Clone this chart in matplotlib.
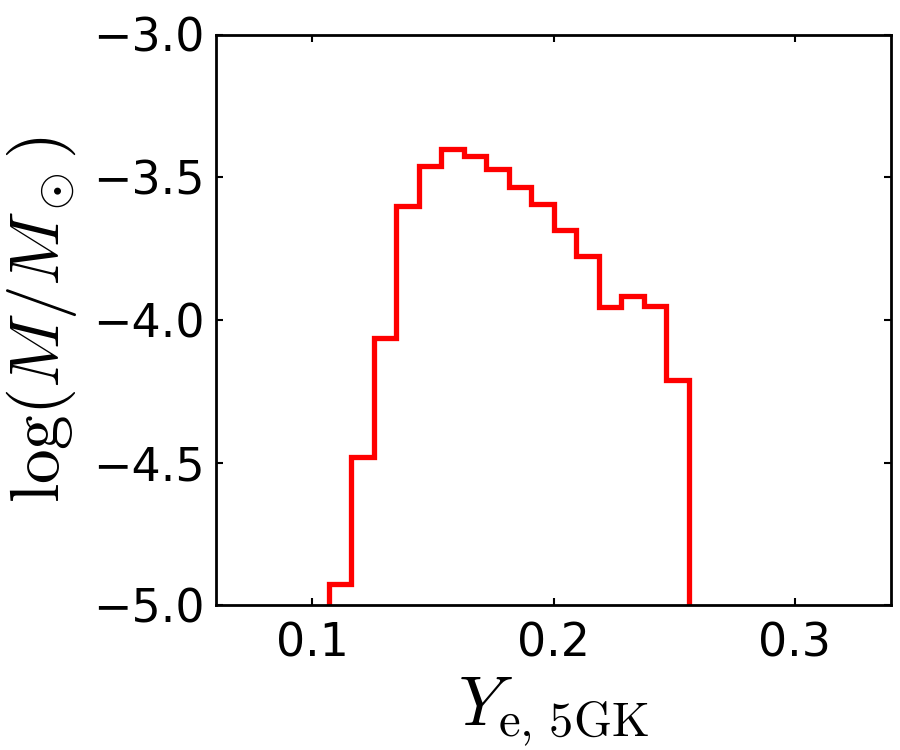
import numpy as np
import matplotlib
matplotlib.use('Agg')
import matplotlib.pyplot as plt

plt.rcParams['mathtext.fontset'] = 'cm'

# histogram bins (the grid spans the x range in 30 bins, only 16 are filled)
bin_grid = np.linspace(0.06, 0.34, 31)
edges = bin_grid[5:22]
log_mass = [-4.925, -4.48, -4.065, -3.60, -3.46, -3.40, -3.425, -3.47,
            -3.535, -3.595, -3.685, -3.775, -3.955, -3.915, -3.95, -4.21]

fig = plt.figure(figsize=(9, 7.5), dpi=100)
ax = fig.add_axes([0.24, 0.193, 0.75, 0.761])

ax.stairs(log_mass, edges, baseline=-10, color='red', lw=3.8)

ax.set_xlim(0.06, 0.34)
ax.set_ylim(-5.0, -3.0)
ax.set_xticks([0.1, 0.2, 0.3])
ax.set_yticks([-5.0, -4.5, -4.0, -3.5, -3.0])
ax.set_yticklabels(['\u22125.0', '\u22124.5', '\u22124.0', '\u22123.5', '\u22123.0'])

ax.tick_params(direction='in', top=True, right=True, length=5, width=1.5,
               labelsize=33, pad=8)
ax.tick_params(axis='x', pad=12)
for s in ax.spines.values():
    s.set_linewidth(2)

ax.set_xlabel(r'$Y_{\rm e,\,5GK}$', fontsize=50, labelpad=6)
ax.set_ylabel(r'$\log(M/M_\odot)$', fontsize=50, labelpad=10)

fig.savefig('out.png', dpi=100)
